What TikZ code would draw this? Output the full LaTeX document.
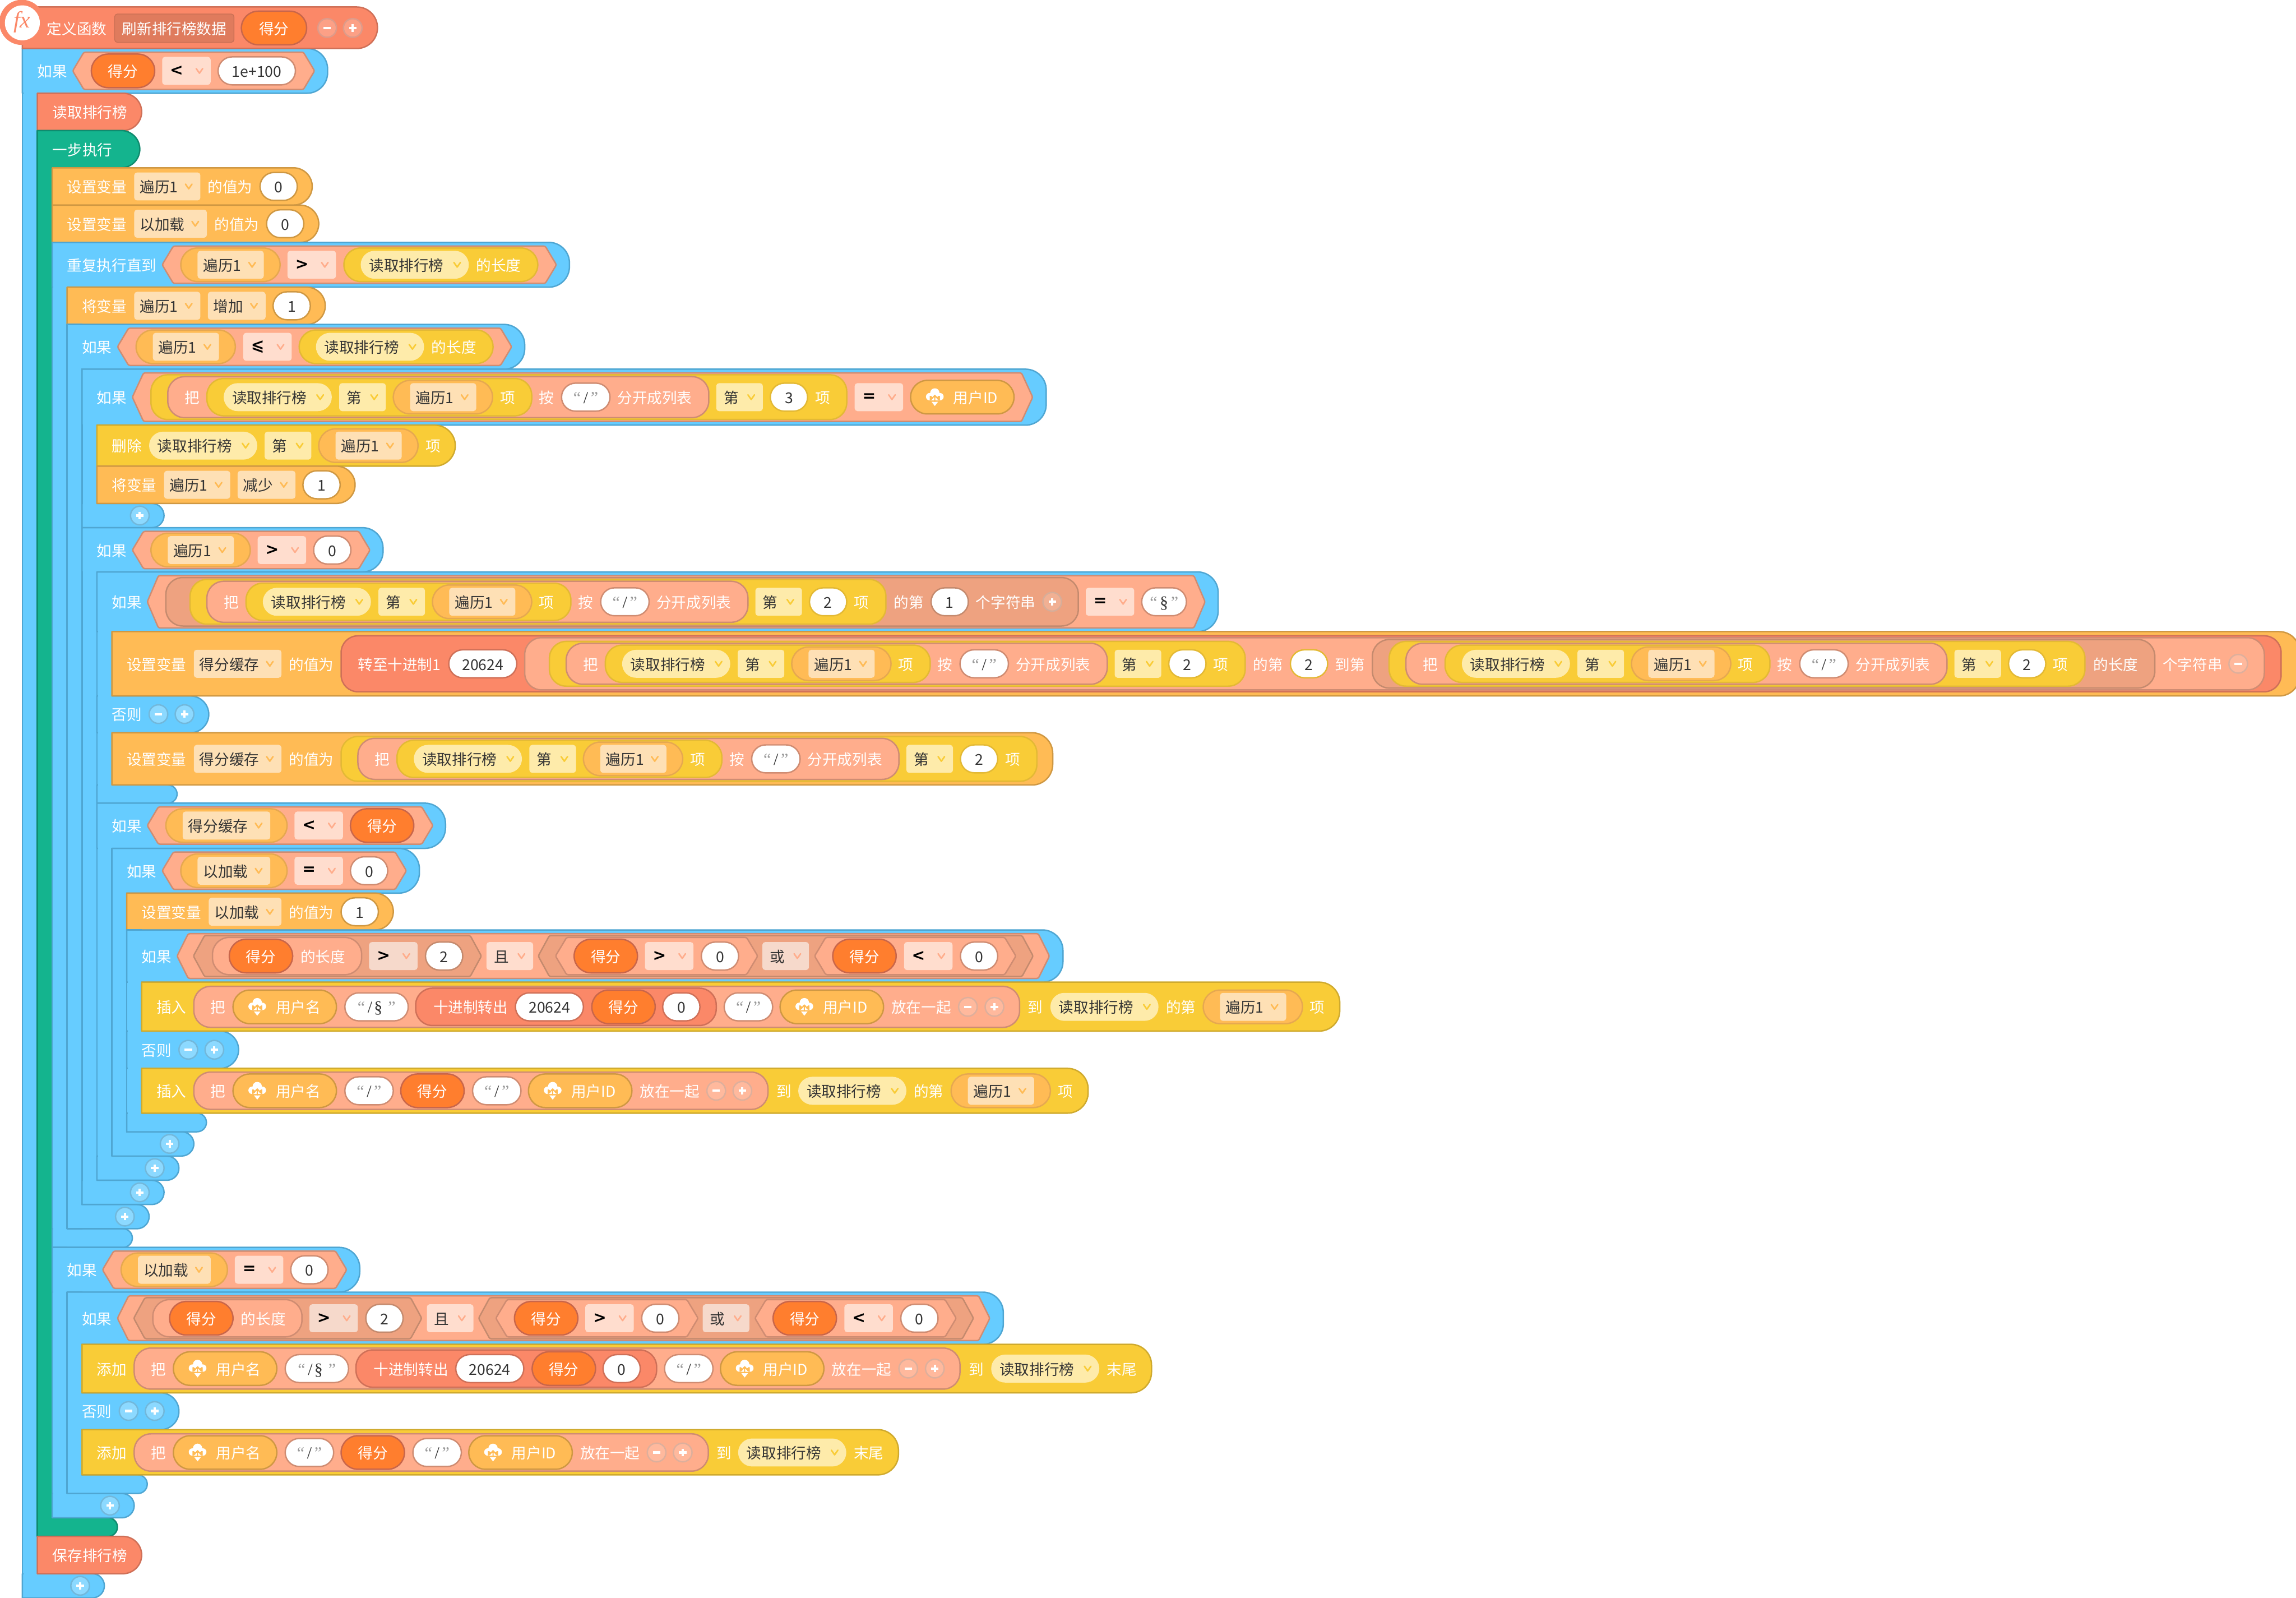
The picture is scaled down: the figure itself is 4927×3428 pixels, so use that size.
\documentclass[tikz,border=0pt]{standalone}
\usepackage{fontspec}
\setmainfont{Noto Sans CJK SC}
\newfontfamily\qf{Liberation Serif}
\newfontfamily\opf{DejaVu Sans}
\definecolor{cBlue}{HTML}{66CCFF}\definecolor{cBlueD}{HTML}{4FA6D2}
\definecolor{cGrn}{HTML}{14B48E}\definecolor{cGrnD}{HTML}{0F8B6E}
\definecolor{cOrg}{HTML}{FFBB55}\definecolor{cOrgD}{HTML}{CF9843}
\definecolor{cOrgL}{HTML}{E6A850}
\definecolor{cYel}{HTML}{F9CC37}\definecolor{cYelD}{HTML}{CFAA2E}
\definecolor{cYelL}{HTML}{E3B935}
\definecolor{cSal}{HTML}{FB8868}\definecolor{cSalD}{HTML}{CF7058}
\definecolor{cPea}{HTML}{FFAD8C}\definecolor{cPeaD}{HTML}{CF8C72}
\definecolor{cDpe}{HTML}{EEA280}\definecolor{cDpeD}{HTML}{C48A6E}
\definecolor{cVar}{HTML}{FF7E2E}\definecolor{cVarD}{HTML}{C9664A}
\definecolor{cFO}{HTML}{FEE0B5}\definecolor{cFY}{HTML}{FEEBAA}
\definecolor{cFP}{HTML}{FFDDCE}\definecolor{cFD}{HTML}{F6D9CB}
\definecolor{cDef}{HTML}{DF7B5D}\definecolor{cTxt}{HTML}{333333}
\definecolor{cQ}{HTML}{9A9A9A}
\tikzset{
 x=0.25pt,y=-0.25pt,
 blk/.style={line width=.75pt,line join=round},
 sBlue/.style={blk,fill=cBlue,draw=cBlueD},
 sGrn/.style={blk,fill=cGrn,draw=cGrnD},
 sOrg/.style={blk,fill=cOrg,draw=cOrgD},
 pOrg/.style={blk,fill=cOrg,draw=cOrgL},
 sYel/.style={blk,fill=cYel,draw=cYelD},
 pYel/.style={blk,fill=cYel,draw=cYelL},
 sSal/.style={blk,fill=cSal,draw=cSalD},
 sPea/.style={blk,fill=cPea,draw=cPeaD},
 sDpe/.style={blk,fill=cDpe,draw=cDpeD},
 sVar/.style={blk,fill=cVar,draw=cVarD},
 bBlue/.style={blk,fill=cBlue!75!white,draw=cBlueD!80!white},
 bPea/.style={blk,fill=cPea!85!white,draw=cPeaD!70!white},
 bSal/.style={blk,fill=cSal!80!white,draw=cSalD!70!white},
 bDpe/.style={blk,fill=cDpe!85!white,draw=cDpeD!70!white},
 lab/.style={inner sep=0pt,outer sep=0pt,font=\fontsize{8pt}{8pt}\selectfont},
}
\newcounter{nc}
\def\Y{0}
\newcommand\TX[2]{\stepcounter{nc}\node[lab,text=white,anchor=base west] (t\arabic{nc}) at ({#1},{\Y+13.5}) {#2};}
\newcommand\TC[3]{\stepcounter{nc}\node[lab,text=#1,anchor=base] (t\arabic{nc}) at ({#2},{\Y+13.5}) {#3};}
\newcommand\BKK[5]{\pgfmathsetmacro\Rr{min((#4-#3)/2,44)}%
 \draw[#1] (#2,#3) -- ({#5-\Rr},#3) .. controls ({#5-0.45*\Rr},#3) and (#5,{#3+0.45*\Rr}) .. (#5,{#3+\Rr}) -- (#5,{#4-\Rr}) .. controls (#5,{#4-0.45*\Rr}) and ({#5-0.45*\Rr},#4) .. ({#5-\Rr},#4) -- (#2,#4) -- cycle;}
\newcommand\BARR[4]{\draw[#1] (#2,#3) rectangle ({#2+32},#4);}
\newcommand\ERS[4]{\fill[#1] ({#2+2},{#3+3}) rectangle ({#2+31},{#4-3});}
\newcommand\PLL[4]{\pgfmathsetmacro\Rq{min(#4/2,36)*0.25}%
 \draw[#1,rounded corners=\Rq pt] ({#2},{\Y-#4/2}) rectangle ({#2+#3},{\Y+#4/2});}
\newcommand\HXG[4]{\draw[#1,rounded corners=.8pt] ({#2},\Y) -- ({#2+24},{\Y-#4/2}) -- ({#2+#3-24},{\Y-#4/2}) -- ({#2+#3},\Y) -- ({#2+#3-24},{\Y+#4/2}) -- ({#2+24},{\Y+#4/2}) -- cycle;}
\newcommand\CVR[2]{\draw[#1,line width=.8pt,line cap=round,line join=round] ({#2-7},{\Y-5}) -- ({#2},{\Y+5}) -- ({#2+7},{\Y-5});}
% fill, chevron, x, w, text, radius
\newcommand\FDD[6]{\fill[#1,rounded corners=#6pt] ({#3},{\Y-30}) rectangle ({#3+#4},{\Y+30});
 \TC{cTxt}{#3+(#4-36)/2}{#5}\CVR{#2}{#3+#4-25}}
\newcommand\FO[3]{\FDD{cFO}{cOrg}{#1}{#2}{#3}{1.5}}
\newcommand\FY[3]{\FDD{cFY}{cYel}{#1}{#2}{#3}{1.5}}
\newcommand\FR[1]{\FDD{cFY}{cYel}{#1}{232}{读取排行榜}{7.5}}
\newcommand\FP[3]{\FDD{cFP}{cPea}{#1}{#2}{#3}{1.5}}
\newcommand\FQ[3]{\FDD{cFD}{cPea}{#1}{#2}{#3}{1.5}}
\newcommand\OPP[3]{\fill[#1,rounded corners=1.5pt] ({#2},{\Y-30}) rectangle ({#2+104},{\Y+30});
 \stepcounter{nc}\node[inner sep=0pt,text=black,anchor=center,font=\opf\bfseries\fontsize{8.5pt}{9pt}\selectfont] (t\arabic{nc}) at ({#2+31},\Y) {#3};\CVR{cPea}{#2+80}}
% border, x, w, text
\newcommand\INP[4]{\draw[blk,draw=#1,fill=white,rounded corners=7.5pt] ({#2},{\Y-30}) rectangle ({#2+#3},{\Y+30});
 \TC{cTxt}{#2+#3/2}{#4}}
\newcommand\QQ[1]{{\qf\fontsize{9pt}{9pt}\selectfont{\color{cQ}“}\kern1.4pt #1\kern1.4pt{\color{cQ}”}}}
\newcommand\ORP[1]{\PLL{sVar}{#1}{136}{72}\TC{white}{#1+68}{得分}}
\newcommand\VARP[1]{\PLL{pOrg}{#1}{213}{72}\FO{#1+36}{142}{遍历1}}
\newcommand\VARQ[4]{\PLL{pOrg}{#1}{#2}{72}\FO{#1+36}{#3}{#4}}
\newcommand\LENP[1]{\PLL{pYel}{#1}{416}{72}\FR{#1+36}\TX{#1+284}{的长度}}
\newcommand\ITM[1]{\FR{#1}\FY{#1+248}{100}{第}\VARP{#1+364}}
\newcommand\SPL[2]{\PLL{pYel}{#1}{1493}{96}\PLL{sPea}{#1+36}{1161}{88}\TX{#1+72}{把}%
 \PLL{pYel}{#1+120}{697}{80}\ITM{#1+156}\TX{#1+749}{项}%
 \TX{#1+833}{按}\INP{cPeaD}{#1+881}{104}{\QQ{/}}\TX{#1+1001}{分开成列表}%
 \FY{#1+1213}{100}{第}\INP{cYelL}{#1+1329}{80}{#2}\TX{#1+1425}{项}}
\newcommand\CLD[1]{\fill[white] ({#1},{\Y-9}) circle (10) ({#1-11},{\Y-1}) circle (8) ({#1+11},{\Y-1}) circle (8) ({#1-11},{\Y-3}) rectangle ({#1+11},{\Y+7});
 \fill[white] ({#1-7},{\Y+10}) -- ({#1+7},{\Y+10}) -- ({#1},{\Y+19}) -- cycle;
 \draw[cOrg,line width=.6pt,line join=round] ({#1-6},{\Y+3}) -- ({#1},{\Y-4}) -- ({#1+6},{\Y+3}) ({#1},{\Y-4}) -- ({#1},{\Y+10});}
\newcommand\UPP[2]{\PLL{sOrg}{#1}{222}{72}\CLD{#1+52}\TX{#1+92}{#2}}
\newcommand\BTN[3]{\draw[#1] ({#2},\Y) circle (20);
 \draw[white,line width=1.25pt] ({#2-8},\Y) -- ({#2+8},\Y);
 \ifnum#3=1 \draw[white,line width=1.25pt] ({#2},{\Y-8}) -- ({#2},{\Y+8});\fi}
% big condition row, d = shift
\newcommand\COND[1]{\TX{304+#1}{如果}\HXG{sPea}{380+#1}{1872}{96}%
 \HXG{sDpe}{415+#1}{618}{88}\PLL{sPea}{456+#1}{320}{80}\ORP{492+#1}\TX{645+#1}{的长度}%
 \OPP{cFD}{792+#1}{>}\INP{cDpeD}{913+#1}{80}{2}\FP{1044+#1}{100}{且}%
 \HXG{sDpe}{1155+#1}{1062}{88}\HXG{sPea}{1192+#1}{434}{80}\ORP{1232+#1}\OPP{cFP}{1384+#1}{>}\INP{cPeaD}{1505+#1}{80}{0}%
 \FQ{1636+#1}{100}{或}\HXG{sPea}{1748+#1}{432}{80}\ORP{1787+#1}\OPP{cFP}{1940+#1}{<}\INP{cPeaD}{2061+#1}{80}{0}}
\newcommand\INSA[1]{\PLL{sPea}{#1}{1772}{88}\TX{#1+36}{把}\UPP{#1+84}{用户名}%
 \INP{cPeaD}{#1+324}{136}{{\qf\fontsize{9pt}{9pt}\selectfont{\color{cQ}“}\kern1.4pt /\kern1pt§\kern3pt{\color{cQ}”}}}%
 \PLL{sSal}{#1+476}{645}{80}\TX{#1+514}{十进制转出}\INP{cSalD}{#1+690}{146}{20624}\ORP{#1+854}\INP{cSalD}{#1+1006}{80}{0}%
 \INP{cPeaD}{#1+1138}{104}{\QQ{/}}\UPP{#1+1258}{用户ID}\TX{#1+1497}{放在一起}\BTN{bPea}{#1+1661}{0}\BTN{bPea}{#1+1718}{1}}
\newcommand\INSB[1]{\PLL{sPea}{#1}{1232}{80}\TX{#1+36}{把}\UPP{#1+84}{用户名}%
 \INP{cPeaD}{#1+324}{104}{\QQ{/}}\ORP{#1+444}\INP{cPeaD}{#1+598}{104}{\QQ{/}}\UPP{#1+718}{用户ID}%
 \TX{#1+957}{放在一起}\BTN{bPea}{#1+1121}{0}\BTN{bPea}{#1+1177}{1}}
\begin{document}
\begin{tikzpicture}
\useasboundingbox (0,0) rectangle (4927,3428);
% ---- main function container
\BARR{sBlue}{48}{104}{3428}
\BKK{sBlue}{48}{104}{200}{703}
\BKK{sBlue}{48}{3376}{3428}{224}
\ERS{cBlue}{48}{104}{3428}
\def\Y{3402}\BTN{bBlue}{172}{1}
\BKK{sSal}{48}{15}{104}{810}
\draw[blk,fill=cSal,draw=cSal] (47,48) circle (47);
\draw[blk,fill=white,draw=white] (48,49) circle (36);
\stepcounter{nc}\node[inner sep=0pt,text=cSal,font=\qf\itshape\fontsize{12.5pt}{13pt}\selectfont] (t\arabic{nc}) at (47,47) {fx};
\def\Y{60}
\TX{101}{定义函数}
\fill[cDef,draw=cDef!90!black,rounded corners=1.5pt] (246,30) rectangle (502,91);
\TC{white}{374}{刷新排行榜数据}
\PLL{sVar}{518}{140}{72}\TC{white}{588}{得分}
\BTN{bSal}{702}{0}\BTN{bSal}{757}{1}
% first if
\def\Y{152}
\TX{80}{如果}\HXG{sPea}{156}{519}{80}\ORP{196}\OPP{cFP}{348}{<}\INP{cPeaD}{468}{166}{1e+100}
% read
\BKK{sSal}{80}{200}{280}{304}\def\Y{240}\TX{113}{读取排行榜}
% green
\BARR{sGrn}{80}{280}{3296}
\BKK{sGrn}{80}{280}{360}{300}
\BKK{sGrn}{80}{3256}{3296}{252}
\ERS{cGrn}{80}{280}{3296}
\def\Y{320}\TX{113}{一步执行}
\BKK{sSal}{80}{3296}{3376}{304}\def\Y{3336}\TX{113}{保存排行榜}
% set vars
\BKK{sOrg}{112}{360}{440}{670}\def\Y{400}\TX{144}{设置变量}\FO{288}{142}{遍历1}\TX{446}{的值为}\INP{cOrgD}{558}{80}{0}
\BKK{sOrg}{112}{440}{520}{684}\def\Y{480}\TX{144}{设置变量}\FO{288}{156}{以加载}\TX{460}{的值为}\INP{cOrgD}{572}{80}{0}
% repeat
\BARR{sBlue}{112}{520}{2676}
\BKK{sBlue}{112}{520}{616}{1222}
\BKK{sBlue}{112}{2636}{2676}{284}
\ERS{cBlue}{112}{520}{2676}
\def\Y{568}\TX{144}{重复执行直到}\HXG{sPea}{348}{846}{80}\VARP{388}\OPP{cFP}{617}{>}\LENP{738}
\BKK{sOrg}{144}{616}{696}{698}\def\Y{656}\TX{176}{将变量}\FO{288}{142}{遍历1}\FO{446}{124}{增加}\INP{cOrgD}{586}{80}{1}
% if <= 
\BARR{sBlue}{144}{696}{2636}
\BKK{sBlue}{144}{696}{792}{1126}
\BKK{sBlue}{144}{2584}{2636}{320}
\ERS{cBlue}{144}{696}{2636}
\def\Y{2610}\BTN{bBlue}{268}{1}
\def\Y{744}\TX{176}{如果}\HXG{sPea}{252}{846}{80}\VARP{292}\OPP{cFP}{522}{⩽}\LENP{642}
% if A
\BARR{sBlue}{176}{792}{1132}
\BKK{sBlue}{176}{792}{912}{2245}
\BKK{sBlue}{176}{1080}{1132}{352}
\ERS{cBlue}{176}{792}{1132}
\def\Y{1106}\BTN{bBlue}{300}{1}
\def\Y{852}\TX{208}{如果}\HXG{sPea}{284}{1932}{104}\SPL{324}{3}\OPP{cFP}{1834}{=}\UPP{1954}{用户ID}
\BKK{sYel}{208}{912}{1000}{977}\def\Y{956}\TX{240}{删除}\ITM{320}\TX{913}{项}
\BKK{sOrg}{208}{1000}{1080}{762}\def\Y{1040}\TX{240}{将变量}\FO{352}{142}{遍历1}\FO{510}{124}{减少}\INP{cOrgD}{650}{80}{1}
% if B
\BARR{sBlue}{176}{1132}{2584}
\BKK{sBlue}{176}{1132}{1227}{822}
\BKK{sBlue}{176}{2532}{2584}{352}
\ERS{cBlue}{176}{1132}{2584}
\def\Y{2558}\BTN{bBlue}{300}{1}
\def\Y{1180}\TX{208}{如果}\HXG{sPea}{284}{510}{80}\VARP{324}\OPP{cFP}{553}{>}\INP{cPeaD}{673}{80}{0}
% if C
\BARR{sBlue}{208}{1227}{1723}
\BKK{sBlue}{208}{1227}{1355}{2614}
\BKK{sBlue}{208}{1493}{1572}{448}
\BKK{sBlue}{208}{1684}{1723}{380}
\ERS{cBlue}{208}{1227}{1723}
\def\Y{1291}\TX{240}{如果}\HXG{sPea}{316}{2270}{112}\PLL{sDpe}{356}{1958}{104}\SPL{408}{2}
\TX{1918}{的第}\INP{cDpeD}{1998}{80}{1}\TX{2094}{个字符串}\BTN{bDpe}{2258}{1}
\OPP{cFP}{2330}{=}\INP{cPeaD}{2450}{96}{\QQ{§}}
\def\Y{1532}\TX{240}{否则}\BTN{bBlue}{340}{0}\BTN{bBlue}{396}{1}
\BKK{sOrg}{240}{1355}{1493}{4935}
\def\Y{1424}\TX{272}{设置变量}\FO{416}{188}{得分缓存}\TX{620}{的值为}
\PLL{sSal}{732}{4163}{120}\TX{768}{转至十进制1}\INP{cSalD}{963}{146}{20624}
\PLL{sPea}{1126}{3733}{112}\SPL{1179}{2}\TX{2689}{的第}\INP{cYelL}{2769}{80}{2}\TX{2865}{到第}
\PLL{sDpe}{2945}{1679}{104}\SPL{2981}{2}\TX{4492}{的长度}
\TX{4641}{个字符串}\BTN{bPea}{4803}{0}
\BKK{sOrg}{240}{1572}{1684}{2259}
\def\Y{1628}\TX{272}{设置变量}\FO{416}{188}{得分缓存}\TX{620}{的值为}\SPL{732}{2}
% if D
\BARR{sBlue}{208}{1723}{2532}
\BKK{sBlue}{208}{1723}{1820}{956}
\BKK{sBlue}{208}{2480}{2532}{384}
\ERS{cBlue}{208}{1723}{2532}
\def\Y{2506}\BTN{bBlue}{332}{1}
\def\Y{1771}\TX{240}{如果}\HXG{sPea}{316}{613}{80}\VARQ{356}{260}{188}{得分缓存}\OPP{cFP}{632}{<}\ORP{752}
% if E
\BARR{sBlue}{240}{1820}{2480}
\BKK{sBlue}{240}{1820}{1916}{900}
\BKK{sBlue}{240}{2428}{2480}{416}
\ERS{cBlue}{240}{1820}{2480}
\def\Y{2454}\BTN{bBlue}{364}{1}
\def\Y{1868}\TX{272}{如果}\HXG{sPea}{348}{524}{80}\VARQ{388}{228}{156}{以加载}\OPP{cFP}{632}{=}\INP{cPeaD}{752}{80}{0}
\BKK{sOrg}{272}{1916}{1995}{844}\def\Y{1956}\TX{304}{设置变量}\FO{448}{156}{以加载}\TX{620}{的值为}\INP{cOrgD}{732}{80}{1}
% if F
\BARR{sBlue}{272}{1995}{2428}
\BKK{sBlue}{272}{1995}{2107}{2281}
\BKK{sBlue}{272}{2212}{2292}{512}
\BKK{sBlue}{272}{2388}{2428}{443}
\ERS{cBlue}{272}{1995}{2428}
\def\Y{2051}\COND{0}
\def\Y{2252}\TX{304}{否则}\BTN{bBlue}{404}{0}\BTN{bBlue}{460}{1}
\BKK{sYel}{304}{2107}{2212}{2875}
\def\Y{2160}\TX{336}{插入}\INSA{416}\TX{2206}{到}\FR{2254}\TX{2502}{的第}\VARP{2582}\TX{2811}{项}
\BKK{sYel}{304}{2292}{2388}{2335}
\def\Y{2340}\TX{336}{插入}\INSB{416}\TX{1667}{到}\FR{1713}\TX{1961}{的第}\VARP{2041}\TX{2270}{项}
% if G
\BARR{sBlue}{112}{2676}{3256}
\BKK{sBlue}{112}{2676}{2772}{772}
\BKK{sBlue}{112}{3204}{3256}{288}
\ERS{cBlue}{112}{2676}{3256}
\def\Y{3230}\BTN{bBlue}{236}{1}
\def\Y{2724}\TX{144}{如果}\HXG{sPea}{220}{524}{80}\VARQ{260}{228}{156}{以加载}\OPP{cFP}{504}{=}\INP{cPeaD}{624}{80}{0}
% if H
\BARR{sBlue}{144}{2772}{3204}
\BKK{sBlue}{144}{2772}{2884}{2153}
\BKK{sBlue}{144}{2988}{3067}{384}
\BKK{sBlue}{144}{3164}{3204}{316}
\ERS{cBlue}{144}{2772}{3204}
\def\Y{2828}\COND{-128}
\def\Y{3027}\TX{176}{否则}\BTN{bBlue}{276}{0}\BTN{bBlue}{332}{1}
\BKK{sYel}{176}{2884}{2988}{2471}
\def\Y{2936}\TX{208}{添加}\INSA{288}\TX{2079}{到}\FR{2127}\TX{2375}{末尾}
\BKK{sYel}{176}{3067}{3164}{1928}
\def\Y{3116}\TX{208}{添加}\INSB{288}\TX{1538}{到}\FR{1584}\TX{1832}{末尾}
\end{tikzpicture}
\end{document}
